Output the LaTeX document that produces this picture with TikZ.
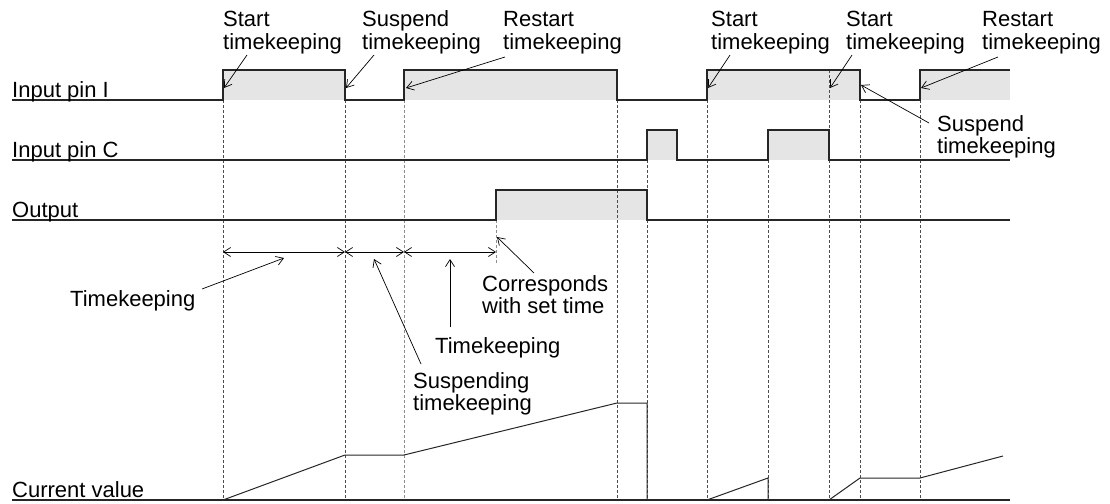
\documentclass[tikz,border=0pt]{standalone}
\usepackage{fontspec}
\setmainfont{Liberation Sans}
\usetikzlibrary{arrows.meta}
\begin{document}
\begin{tikzpicture}[x=1pt,y=-1pt,
  sig/.style={line width=1.2pt, black!85},
  cur/.style={line width=1pt, black!85},
  hifill/.style={fill=black!10},
  dsh/.style={dash pattern=on 3pt off 2pt, line width=0.8pt, black!70},
  dshg/.style={dash pattern=on 3pt off 2pt, line width=0.9pt, black!45},
  arr/.style={-{Straight Barb[length=7pt,width=9pt]}, line width=0.7pt, black},
  dimarr/.style={{Straight Barb[length=7pt,width=9pt]}-{Straight Barb[length=7pt,width=9pt]}, line width=0.7pt, black},
  lbl/.style={font=\fontsize{22}{22}\selectfont, inner sep=0pt, align=left, anchor=base west}]
\useasboundingbox (0,0) rectangle (1110,503);

% fills
\fill[hifill] (223,70) rectangle (345,100);
\fill[hifill] (404,70) rectangle (617,100);
\fill[hifill] (707,70) rectangle (860,100);
\fill[hifill] (920,70) rectangle (1010,100);
\fill[hifill] (647,130) rectangle (677,160);
\fill[hifill] (768,130) rectangle (829,160);
\fill[hifill] (496,190) rectangle (647,220);

% dashed guide lines
\draw[dsh] (223,100) -- (223,500);
\draw[dsh] (345,100) -- (345,500);
\draw[dshg] (404,100) -- (404,500);
\draw[dshg] (496,220) -- (496,263);
\draw[dsh] (617,100) -- (617,500);
\draw[dsh] (647,160) -- (647,500);
\draw[dsh] (707,100) -- (707,500);
\draw[dsh] (768,160) -- (768,500);
\draw[dsh] (829,70) -- (829,500);
\draw[dsh] (860,100) -- (860,500);
\draw[dsh] (920,100) -- (920,500);

% signals
\draw[sig] (12,100) -- (223,100) -- (223,70) -- (345,70) -- (345,100) -- (404,100) -- (404,70) -- (617,70) -- (617,100) -- (707,100) -- (707,70) -- (860,70) -- (860,100) -- (920,100) -- (920,70) -- (1010,70);
\draw[sig] (12,160) -- (647,160) -- (647,130) -- (677,130) -- (677,160) -- (768,160) -- (768,130) -- (829,130) -- (829,160) -- (1010,160);
\draw[sig] (12,220) -- (496,220) -- (496,190) -- (647,190) -- (647,220) -- (1010,220);

% current value
\draw[sig] (12,500) -- (1010,500);
\draw[cur] (223,500) -- (345,455) -- (404,455) -- (617,403) -- (647,403) -- (647,500);
\draw[cur] (707,500) -- (768,478) -- (768,500);
\draw[cur] (829,500) -- (860,478) -- (920,478) -- (1003,456);

% signal labels
\node[lbl] (lI) at (12,97) {Input pin I};
\node[lbl] (lC) at (12,157) {Input pin C};
\node[lbl] (lO) at (12,217) {Output};
\node[lbl] (lV) at (12,497) {Current value};

% dimension arrows
\coordinate (d1) at (223,252);
\coordinate (d2) at (345,252);
\coordinate (d3) at (404,252);
\coordinate (d4) at (496,252);
\draw[dimarr] (d1) -- (d2);
\draw[dimarr] (d2) -- (d3);
\draw[dimarr] (d3) -- (d4);

% top labels (anchor = baseline of last line)
\node[lbl] (t1) at (223,49) {Start\\timekeeping};
\node[lbl] (t2) at (362,49) {Suspend\\timekeeping};
\node[lbl] (t3) at (503,49) {Restart\\timekeeping};
\node[lbl] (t4) at (711,49) {Start\\timekeeping};
\node[lbl] (t5) at (846,49) {Start\\timekeeping};
\node[lbl] (t6) at (982,49) {Restart\\timekeeping};
\node[lbl] (t7) at (937,153) {Suspend\\timekeeping};

\coordinate (a1s) at (247,55); \coordinate (a1e) at (224,88);
\coordinate (a2s) at (374,55); \coordinate (a2e) at (346,88);
\coordinate (a3s) at (505,57); \coordinate (a3e) at (406,88);
\coordinate (a4s) at (730,55); \coordinate (a4e) at (708,88);
\coordinate (a5s) at (852,55); \coordinate (a5e) at (830,88);
\coordinate (a6s) at (998,57); \coordinate (a6e) at (921,88);
\coordinate (a7s) at (929,123); \coordinate (a7e) at (861,85);
\draw[arr] (a1s) -- (a1e);
\draw[arr] (a2s) -- (a2e);
\draw[arr] (a3s) -- (a3e);
\draw[arr] (a4s) -- (a4e);
\draw[arr] (a5s) -- (a5e);
\draw[arr] (a6s) -- (a6e);
\draw[arr] (a7s) -- (a7e);

% lower annotations
\node[lbl] (m1) at (70,306) {Timekeeping};
\node[lbl] (m2) at (435,353) {Timekeeping};
\node[lbl] (m3) at (413,410) {Suspending\\timekeeping};
\node[lbl] (m4) at (482,313) {Corresponds\\with set time};

\coordinate (b1s) at (202,289); \coordinate (b1e) at (284,258);
\coordinate (b2s) at (450,327); \coordinate (b2e) at (450,259);
\coordinate (b3s) at (421,364); \coordinate (b3e) at (374,259);
\coordinate (b4s) at (534,273); \coordinate (b4e) at (497,237);
\draw[arr] (b1s) -- (b1e);
\draw[arr] (b2s) -- (b2e);
\draw[arr] (b3s) -- (b3e);
\draw[arr] (b4s) -- (b4e);
\end{tikzpicture}
\end{document}
